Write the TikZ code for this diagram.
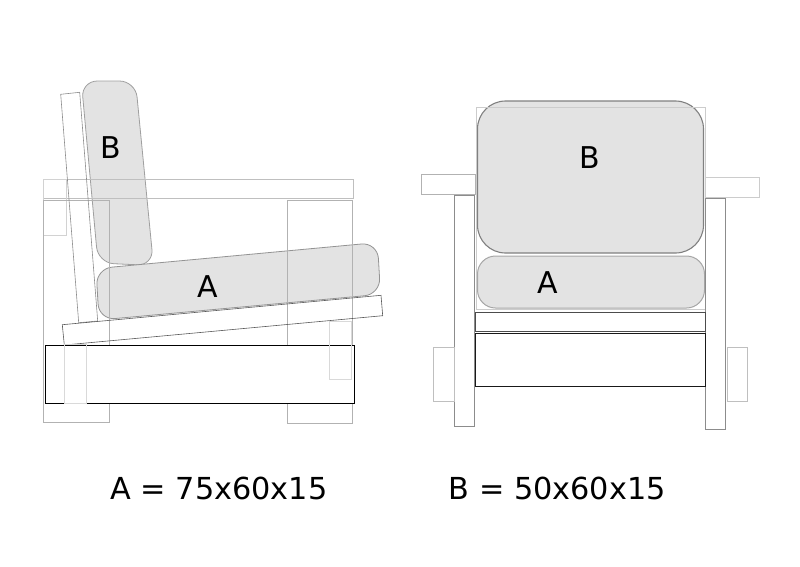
\documentclass[tikz,border=0pt]{standalone}
\usepackage{fontspec}
\setmainfont{DejaVu Sans}
\definecolor{cushionfill}{HTML}{E3E3E3}
\tikzset{
  cushion/.style={fill=cushionfill,draw=#1,line width=0.8pt},
  frame/.style={draw=#1,line width=1pt},
  label/.style={anchor=base,font=\fontsize{30}{36}\selectfont,text=black,inner sep=0pt},
  dimlabel/.style={anchor=base,font=\fontsize{30.3}{36}\selectfont,text=black,inner sep=0pt},
}
\begin{document}
\begin{tikzpicture}[x=1pt,y=-1pt]
\useasboundingbox (0,0) rectangle (800,566);
% --- side view: cushions
\draw[cushion=gray!75,rounded corners=16pt] (81.3,81) -- (135.5,81) -- (153.5,265.5) -- (98,263) -- cycle;
\draw[cushion=gray!85,rounded corners=16pt] (96,268.6) -- (377.5,242.5) -- (380.5,294.3) -- (99,320) -- cycle;
% --- side view: frame
\draw[frame=gray!50] (43.5,179) rectangle (353.5,198.5);
\draw[frame=gray!35] (43.5,179) rectangle (66.5,235.3);
\draw[frame=gray!60] (43.5,200.5) rectangle (109.5,422.5);
\draw[frame=gray!60] (287,200.5) rectangle (352.5,423);
\draw[frame=gray!90,line width=0.6pt] (60.7,94.3) -- (79.7,92.3) -- (97.7,321) -- (78.7,322.7) -- cycle;
\draw[frame=black!65,line width=0.6pt] (62.3,324.7) -- (381,295.3) -- (382.7,315.7) -- (64.3,345) -- cycle;
\draw[frame=black,fill=white] (45,345.5) rectangle (354.5,403.5);
\draw[frame=gray!30] (64.5,344) rectangle (86.5,403);
\draw[frame=gray!30] (329.5,321) rectangle (351.5,379.5);
% --- front view: cushions
\draw[cushion=gray,rounded corners=28pt,line width=1.1pt] (477.5,101) rectangle (703.5,253);
\draw[cushion=gray!70,rounded corners=18pt,line width=1pt] (477.5,256) rectangle (704.5,308);
% --- front view: frame
\draw[frame=gray!40] (476,107) rectangle (705.5,309.5);
\draw[frame=gray!60] (421.3,174.5) rectangle (475.8,194.5);
\draw[frame=gray!40] (705.7,177.5) rectangle (759.7,197.5);
\draw[frame=gray!90] (454.5,195) rectangle (474.4,426);
\draw[frame=gray!90] (705.7,198.3) rectangle (725.4,429);
\draw[frame=gray!50] (433.3,347.3) rectangle (454,401.4);
\draw[frame=gray!50] (727,347.3) rectangle (747.4,401.4);
\draw[frame=black!70] (475.5,312) rectangle (705.7,331.5);
\draw[frame=black!90] (475.5,333.5) rectangle (705.7,386.2);
% --- labels
\node[label] (bside) at (110.8,158) {B};
\node[label] (aside) at (207.3,297.5) {A};
\node[label] (bfront) at (589.3,168) {B};
\node[label] (afront) at (547.3,293) {A};
\node[dimlabel] (dima) at (219,499) {A = 75x60x15};
\node[dimlabel] (dimb) at (557.3,499) {B = 50x60x15};
\end{tikzpicture}
\end{document}
